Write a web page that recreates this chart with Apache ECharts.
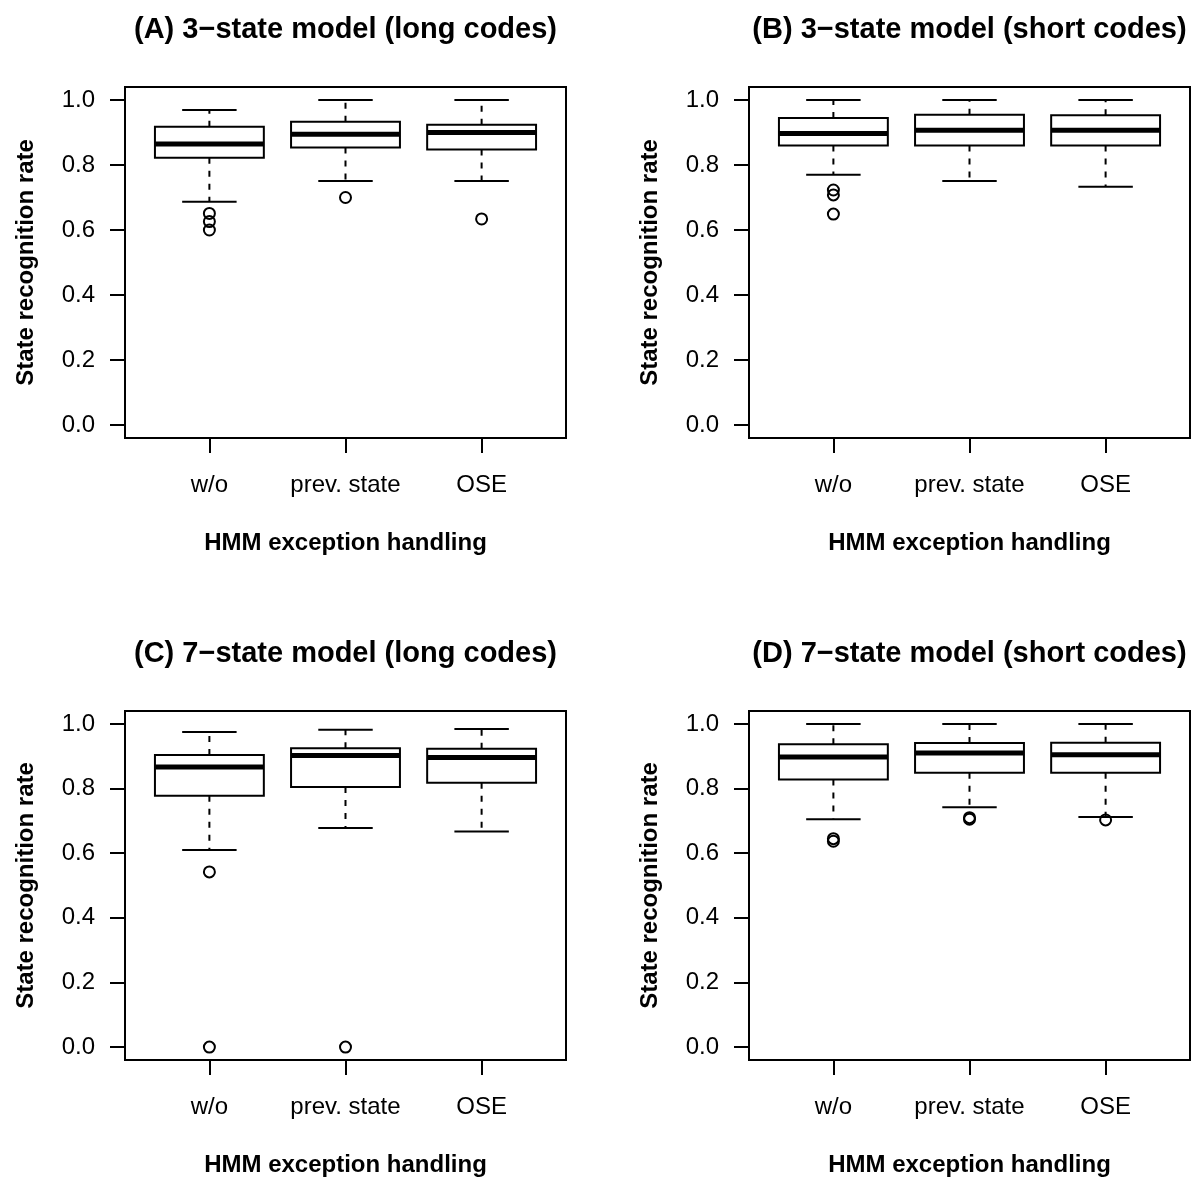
<!DOCTYPE html>
<html>
<head>
<meta charset="utf-8">
<script src="https://cdn.jsdelivr.net/npm/echarts@6.0.0/dist/echarts.min.js"></script>
<style>
  html, body { margin: 0; padding: 0; background: #fff; }
</style>
</head>
<body>
<div id="main" style="width:1195px;height:1178px;"></div>
<script>
// categories on the x axis
const xLabels = ['w/o', 'prev. state', 'OSE'];
const yTicks = [0, 0.2, 0.4, 0.6, 0.8, 1.0];
const panelTitles = [
    '(A) 3\u2212state model (long codes)',
    '(B) 3\u2212state model (short codes)',
    '(C) 7\u2212state model (long codes)',
    '(D) 7\u2212state model (short codes)'
];

// each row: [lower whisker, Q1, median, Q3, upper whisker]
const boxesA = [[0.687, 0.822, 0.865, 0.918, 0.969], [0.751, 0.854, 0.895, 0.933, 1.0], [0.751, 0.848, 0.900, 0.924, 1.0]];
const boxesB = [[0.770, 0.860, 0.897, 0.945, 1.0], [0.751, 0.860, 0.907, 0.955, 1.0], [0.733, 0.860, 0.907, 0.953, 1.0]];
const boxesC = [[0.610, 0.778, 0.867, 0.904, 0.975], [0.678, 0.805, 0.902, 0.925, 0.982], [0.667, 0.818, 0.896, 0.923, 0.984]];
const boxesD = [[0.705, 0.828, 0.898, 0.937, 1.0], [0.742, 0.849, 0.910, 0.941, 1.0], [0.712, 0.849, 0.905, 0.942, 1.0]];

// outliers: [category number, value]
const outliersA = [[1, 0.651], [1, 0.626], [1, 0.600], [2, 0.700], [3, 0.634]];
const outliersB = [[1, 0.723], [1, 0.708], [1, 0.649]];
const outliersC = [[1, 0.542], [1, 0.0], [2, 0.0]];
const outliersD = [[1, 0.645], [1, 0.637], [2, 0.710], [2, 0.705], [3, 0.703]];

const allBoxes = [boxesA, boxesB, boxesC, boxesD];
const allOutliers = [outliersA, outliersB, outliersC, outliersD];

const FONT = '"Liberation Sans", Arial, Helvetica, sans-serif';
const gridPos = [
    {left: 125, top: 87},
    {left: 749, top: 87},
    {left: 125, top: 711},
    {left: 749, top: 711}
];
const GW = 441, GH = 351;

function renderBox(params, api) {
    const x = api.value(0);
    const lo = api.value(1), q1 = api.value(2), med = api.value(3), q3 = api.value(4), hi = api.value(5);
    const half = 0.4, cap = 0.2;
    const p = (a, b) => api.coord([a, b]);
    const tl = p(x - half, q3), br = p(x + half, q1);
    const dash = {stroke: '#000', lineWidth: 2, lineDash: [6, 7]};
    const solid = {stroke: '#000', lineWidth: 2};
    const seg = (a, b, style) => ({
        type: 'line',
        shape: {x1: a[0], y1: a[1], x2: b[0], y2: b[1]},
        style: style
    });
    return {
        type: 'group',
        children: [
            seg(p(x, q3), p(x, hi), dash),
            seg(p(x, q1), p(x, lo), dash),
            seg(p(x - cap, hi), p(x + cap, hi), solid),
            seg(p(x - cap, lo), p(x + cap, lo), solid),
            {
                type: 'rect',
                shape: {x: tl[0], y: tl[1], width: br[0] - tl[0], height: br[1] - tl[1]},
                style: {fill: 'none', stroke: '#000', lineWidth: 2}
            },
            seg(p(x - half, med), p(x + half, med), {stroke: '#000', lineWidth: 5, lineCap: 'butt'})
        ]
    };
}

const chart = echarts.init(document.getElementById('main'));
const option = {
    animation: false,
    backgroundColor: '#fff',
    title: [],
    grid: [],
    xAxis: [],
    yAxis: [],
    series: []
};

for (let i = 0; i < 4; i++) {
    const g = gridPos[i];
    option.title.push({
        text: panelTitles[i],
        left: g.left + GW / 2,
        top: g.top - 72,
        textAlign: 'center',
        padding: 0,
        textStyle: {fontFamily: FONT, fontSize: 29, fontWeight: 'bold', color: '#000'}
    });
    option.grid.push({
        left: g.left, top: g.top, width: GW, height: GH,
        show: true, borderColor: '#000', borderWidth: 2, backgroundColor: 'transparent'
    });
    option.xAxis.push({
        type: 'value', gridIndex: i, min: 0.38, max: 3.62,
        name: 'HMM exception handling', nameLocation: 'middle', nameGap: 93,
        nameTextStyle: {fontFamily: FONT, fontSize: 24, fontWeight: 'bold', color: '#000'},
        axisLine: {show: false, onZero: false},
        splitLine: {show: false},
        axisTick: {show: true, length: 15, customValues: [1, 2, 3], lineStyle: {color: '#000', width: 2}},
        axisLabel: {
            customValues: [1, 2, 3], margin: 35,
            fontFamily: FONT, fontSize: 24, color: '#000',
            formatter: v => xLabels[Math.round(v) - 1]
        }
    });
    option.yAxis.push({
        type: 'value', gridIndex: i, min: -0.04, max: 1.04,
        name: 'State recognition rate', nameLocation: 'middle', nameGap: 87,
        nameTextStyle: {fontFamily: FONT, fontSize: 24, fontWeight: 'bold', color: '#000'},
        axisLine: {show: false, onZero: false},
        splitLine: {show: false},
        axisTick: {show: true, length: 15, customValues: yTicks, lineStyle: {color: '#000', width: 2}},
        axisLabel: {
            customValues: yTicks, margin: 30,
            fontFamily: FONT, fontSize: 24, color: '#000',
            formatter: v => v.toFixed(1)
        }
    });
    option.series.push({
        type: 'custom',
        xAxisIndex: i, yAxisIndex: i,
        renderItem: renderBox,
        encode: {x: 0, y: [1, 2, 3, 4, 5]},
        data: allBoxes[i].map((b, k) => [k + 1].concat(b))
    });
    option.series.push({
        type: 'scatter',
        xAxisIndex: i, yAxisIndex: i,
        symbol: 'circle', symbolSize: 11,
        itemStyle: {color: 'rgba(0,0,0,0)', borderColor: '#000', borderWidth: 2, opacity: 1},
        data: allOutliers[i]
    });
}

chart.setOption(option);
</script>
</body>
</html>
